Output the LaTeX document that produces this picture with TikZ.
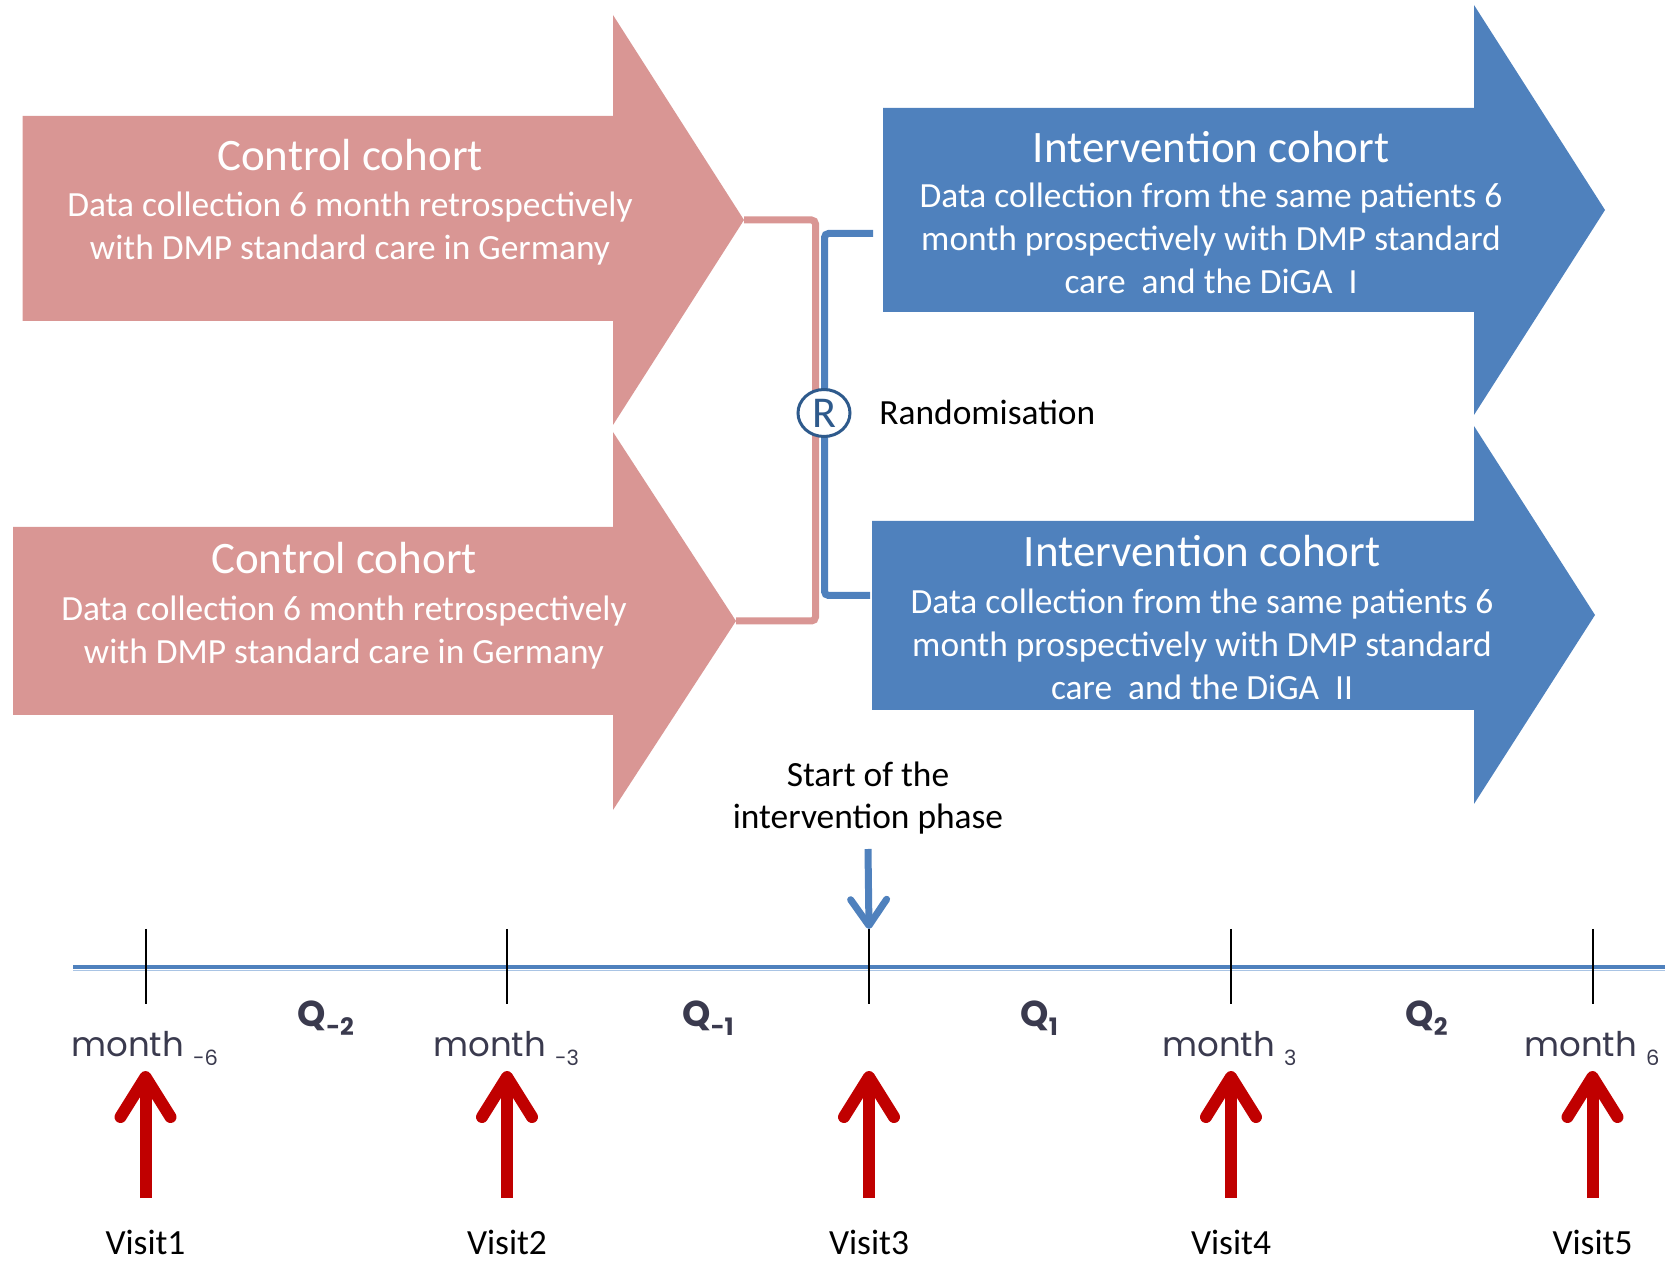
\documentclass[tikz,border=0pt]{standalone}
\usepackage{fontspec}
\setmainfont{Carlito}
\newfontfamily\gothic{Poppins}
\usetikzlibrary{arrows.meta,shapes.geometric}
\definecolor{pinkc}{HTML}{D99694}
\definecolor{bluec}{HTML}{4F81BD}
\definecolor{redc}{HTML}{C00000}
\definecolor{rblue}{HTML}{2E5A8C}
\definecolor{gothc}{HTML}{3A3A4E}
\definecolor{lightline}{HTML}{A9C4E4}
\begin{document}
\begin{tikzpicture}[x=0.5pt,y=-0.5pt,
  pinkarrow/.style={fill=pinkc, draw=none},
  bluearrow/.style={fill=bluec, draw=none},
  ctitle/.style={anchor=base, inner sep=0pt, text=white, font=\fontsize{22.5pt}{27pt}\selectfont},
  cbody/.style={anchor=base, inner sep=0pt, text=white, align=center, font=\fontsize{17.7pt}{21.5pt}\selectfont},
  plain/.style={anchor=base, inner sep=0pt, text=black, align=center, font=\fontsize{17.7pt}{21pt}\selectfont},
  bracketpink/.style={draw=pinkc, line width=3.5pt, rounded corners=2pt},
  bracketblue/.style={draw=bluec, line width=3.5pt, rounded corners=2pt},
  tickline/.style={draw=black, line width=1pt},
  timeline/.style={draw=bluec, line width=2pt},
  redarrow/.style={draw=redc, line width=6pt, -{Straight Barb[length=20pt, width=25pt, round]}},
  startarrow/.style={draw=bluec, line width=3.5pt, -{Straight Barb[length=13pt, width=18pt, round]}},
  monthlbl/.style={anchor=base west, inner sep=0pt, text=gothc, font=\gothic\fontsize{17pt}{20pt}\selectfont},
  qlbl/.style={anchor=base west, inner sep=0pt, text=gothc, font=\gothic\bfseries\fontsize{18pt}{20pt}\selectfont},
]
\useasboundingbox (0,0) rectangle (1678,1261);

% ---- cohort arrows ----
\path[pinkarrow] (22.5,116) -- (613,116) -- (613,15) -- (744,220) -- (613,425) -- (613,321) -- (22.5,321) -- cycle;
\path[pinkarrow] (13,527) -- (613,527) -- (613,432) -- (736,621) -- (613,810) -- (613,715) -- (13,715) -- cycle;
\path[bluearrow] (883,108) -- (1474,108) -- (1474,5) -- (1605,210) -- (1474,415) -- (1474,312) -- (883,312) -- cycle;
\path[bluearrow] (872,521) -- (1474,521) -- (1474,426) -- (1595,615) -- (1474,804) -- (1474,710) -- (872,710) -- cycle;

\coordinate (ctipA) at (744,220);
\coordinate (ctipB) at (736,621);
\coordinate (itopA) at (873,233.5);
\coordinate (itopB) at (870,595.5);

% ---- texts in arrows ----
\node[ctitle] (c1t) at (350,171) {Control cohort};
\node[cbody] (c1b) at (350,260) {Data collection 6 month retrospectively\\with DMP standard care in Germany};
\node[ctitle] (c2t) at (344,574) {Control cohort};
\node[cbody] (c2b) at (344,664) {Data collection 6 month retrospectively\\with DMP standard care in Germany};
\node[ctitle] (i1t) at (1211,163) {Intervention cohort};
\node[cbody] (i1b) at (1211,294) {Data collection from the same patients 6\\month prospectively with DMP standard\\care\ \ and the DiGA\ \ I};
\node[ctitle] (i2t) at (1202,567) {Intervention cohort};
\node[cbody] (i2b) at (1202,700) {Data collection from the same patients 6\\month prospectively with DMP standard\\care\ \ and the DiGA\ \ II};

% ---- brackets ----
\draw[bracketpink] (ctipA) -- (815.5,220) -- (815.5,621) -- (ctipB);
\draw[bracketblue] (itopA) -- (824.5,233.5) -- (824.5,595.5) -- (itopB);

\node[ellipse, draw=rblue, fill=white, line width=1.5pt, minimum width=26pt, minimum height=23.5pt, inner sep=0pt,
      text=rblue, font=\fontsize{22pt}{22pt}\selectfont] (R) at (824,413) {R};
\node[plain, anchor=base west] (rand) at (879,425) {Randomisation};

% ---- start of intervention ----
\node[plain] (start) at (868,829) {Start of the\\intervention phase};

% ---- timeline ----
\coordinate (tlL) at (73,967);
\coordinate (tlR) at (1665,967);
\draw[draw=lightline, line width=0.8pt] (73,970.5) -- (1665,970.5);
\draw[timeline] (tlL) -- (tlR);

\foreach \i/\x in {1/145.5, 2/507, 3/869, 4/1231, 5/1592.5} {
  \coordinate (tt\i) at (\x,929);
  \coordinate (tb\i) at (\x,1004);
  \draw[tickline] (tt\i) -- (tb\i);
  \coordinate (ra\i) at (\x,1198);
  \coordinate (rt\i) at (\x,1071);
  \draw[redarrow] (ra\i) -- (rt\i);
  \node[plain] (v\i) at (\x,1254) {Visit\i};
}

\coordinate (sa) at (868,849);
\draw[startarrow] (sa) -- (tt3);

% ---- month labels ----
\node[monthlbl] (m1) at (71,1057) {month {\fontsize{10.5pt}{11pt}\selectfont\raisebox{-4.5pt}{-6}}};
\node[monthlbl] (m2) at (433,1057) {month {\fontsize{10.5pt}{11pt}\selectfont\raisebox{-4.5pt}{-3}}};
\node[monthlbl] (m4) at (1162,1057) {month {\fontsize{10.5pt}{11pt}\selectfont\raisebox{-4.5pt}{3}}};
\node[monthlbl] (m5) at (1524,1057) {month {\fontsize{10.5pt}{11pt}\selectfont\raisebox{-4.5pt}{6}}};

% ---- quarter labels ----
\node[qlbl] (q1) at (297.5,1027) {Q{\fontsize{12pt}{12pt}\selectfont\raisebox{-4.5pt}{-2}}};
\node[qlbl] (q2) at (682,1027) {Q{\fontsize{12pt}{12pt}\selectfont\raisebox{-4.5pt}{-1}}};
\node[qlbl] (q3) at (1020,1027) {Q{\fontsize{12pt}{12pt}\selectfont\raisebox{-4.5pt}{1}}};
\node[qlbl] (q4) at (1405,1027) {Q{\fontsize{12pt}{12pt}\selectfont\raisebox{-4.5pt}{2}}};
\end{tikzpicture}
\end{document}
